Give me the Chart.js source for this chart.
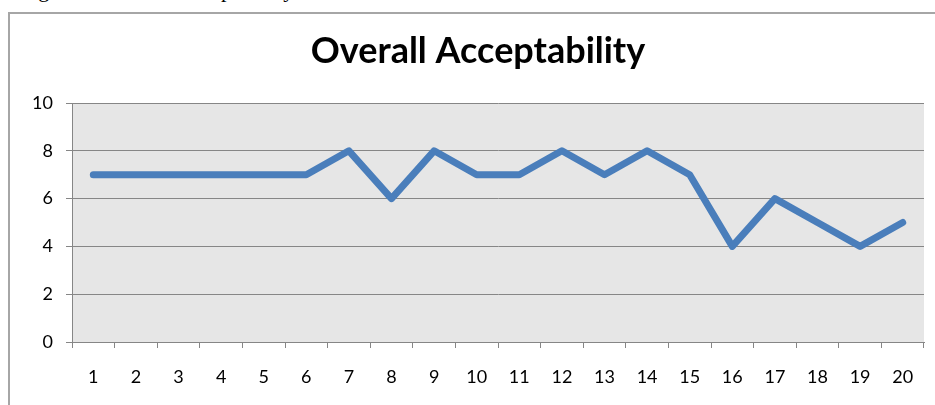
<!DOCTYPE html>
<html>
<head>
<meta charset="utf-8">
<script src="https://cdn.jsdelivr.net/npm/chart.js@4.4.1/dist/chart.umd.min.js"></script>
<style>
    html, body { margin: 0; padding: 0; width: 935px; height: 405px; overflow: hidden; background: #ffffff; }
    #caption { position: absolute; left: 20px; top: -21px; font: 22px "Liberation Serif", "Times New Roman", serif; line-height: 22px; color: #000; white-space: nowrap; }
    #frame { position: absolute; left: 8px; top: 12px; width: 1000px; height: 500px; border: 2px solid #a6a6a6; box-sizing: border-box; }
    #wrap { position: absolute; left: 0; top: 0; width: 935px; height: 405px; }
</style>
</head>
<body>
<div id="caption">Figure 4: Overall Acceptability</div>
<div id="frame"></div>
<div id="wrap"><canvas id="acceptChart" width="935" height="405"></canvas></div>
<script>
// sample numbers along the x axis
const samples = ['1', '2', '3', '4', '5', '6', '7', '8', '9', '10', '11', '12', '13', '14', '15', '16', '17', '18', '19', '20'];
// overall acceptability score per sample
const acceptScores = [7, 7, 7, 7, 7, 7, 8, 6, 8, 7, 7, 8, 7, 8, 7, 4, 6, 5, 4, 5];
const yTicks = [0, 2, 4, 6, 8, 10];

const axisGray = '#868686';
const labelFont = { family: 'Lato, "Open Sans", sans-serif', size: 18 };

// grey plot background, like the spreadsheet chart
const plotBackground = {
    id: 'plotBackground',
    beforeDraw(chart) {
        const { ctx, chartArea } = chart;
        if (!chartArea) return;
        ctx.save();
        ctx.fillStyle = '#e6e6e6';
        ctx.fillRect(chartArea.left, chartArea.top, chartArea.right - chartArea.left, chartArea.bottom - chartArea.top);
        ctx.restore();
    }
};

const ctx = document.getElementById('acceptChart').getContext('2d');
new Chart(ctx, {
    type: 'line',
    data: {
        labels: samples,
        datasets: [{
            label: 'Overall Acceptability',
            data: acceptScores,
            borderColor: '#4a7ebb',
            borderWidth: 7,
            borderCapStyle: 'round',
            borderJoinStyle: 'round',
            pointRadius: 0,
            tension: 0,
            fill: false
        }]
    },
    options: {
        responsive: false,
        animation: false,
        devicePixelRatio: 1,
        // left padding shifts the title centre to match the original
        layout: { padding: { left: 32, right: 11, top: 0, bottom: 0 } },
        plugins: {
            legend: { display: false },
            tooltip: { enabled: false },
            title: {
                display: true,
                text: 'Overall Acceptability',
                color: '#000000',
                font: { family: 'Lato, "Open Sans", sans-serif', size: 36, weight: 'bold', lineHeight: 1.2 },
                padding: { top: 30, bottom: 29.8 }
            }
        },
        scales: {
            x: {
                offset: true,
                grid: { offset: true, drawOnChartArea: false, drawTicks: true, tickLength: 6, color: axisGray },
                border: { color: axisGray, width: 1 },
                ticks: { color: '#000000', font: labelFont, padding: 18, maxRotation: 0, autoSkip: false },
                afterFit(scale) { scale.height = 63; }
            },
            y: {
                min: 0,
                max: 10,
                afterBuildTicks(scale) { scale.ticks = yTicks.map((v) => ({ value: v })); },
                grid: { color: axisGray, tickLength: 6 },
                border: { color: axisGray, width: 1 },
                ticks: { color: '#000000', font: labelFont, padding: 13 },
                afterFit(scale) { scale.width = 40; }
            }
        }
    },
    plugins: [plotBackground]
});
</script>
</body>
</html>
